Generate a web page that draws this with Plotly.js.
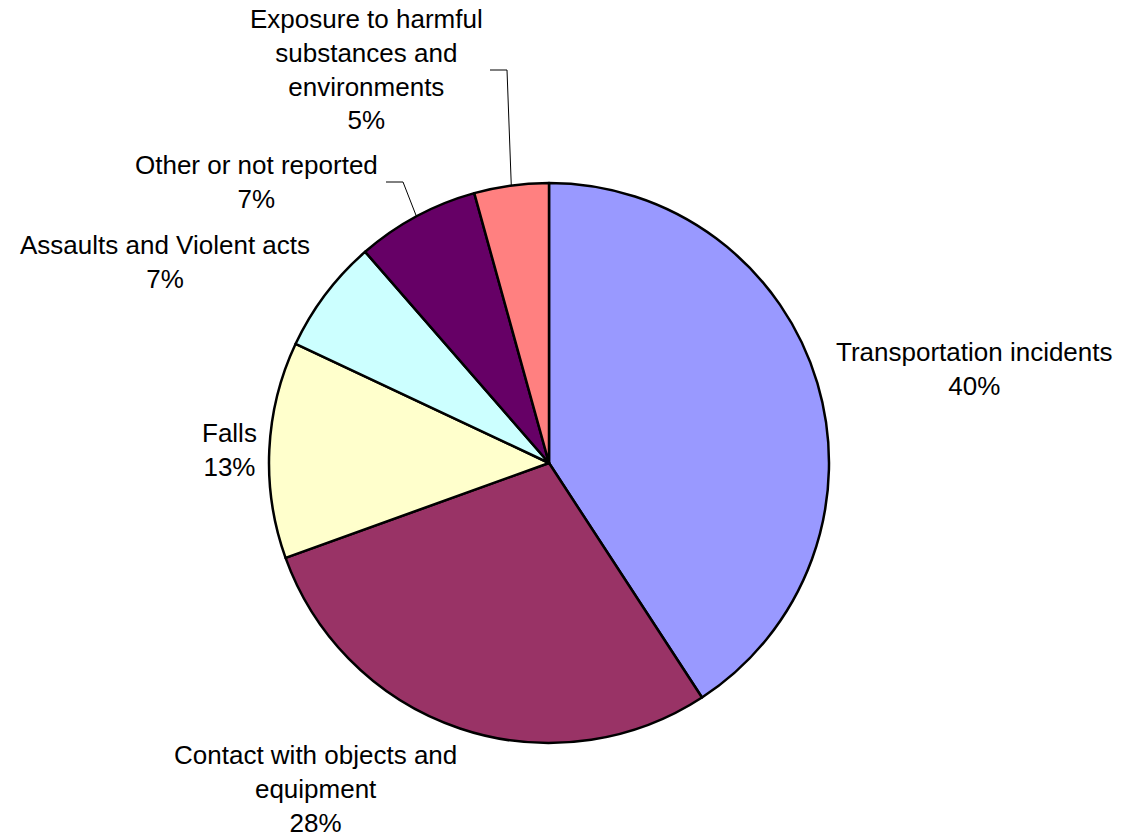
<!DOCTYPE html>
<html>
<head>
<meta charset="utf-8">
<script src="https://cdn.plot.ly/plotly-3.0.1.min.js"></script>
<style>html,body{margin:0;padding:0;background:#fff;}#chart{width:1121px;height:839px;}</style>
</head>
<body>
<div id="chart"></div>
<script>
// ---- data ----
const categories = [
  'Transportation incidents',
  'Contact with objects and equipment',
  'Falls',
  'Assaults and Violent acts',
  'Other or not reported',
  'Exposure to harmful substances and environments'
];
const values = [40.8, 28.7, 12.5, 6.6, 7.1, 4.3];
const percentLabels = ['40%', '28%', '13%', '7%', '7%', '5%'];
const labelLines = [
  ['Transportation incidents'],
  ['Contact with objects and', 'equipment'],
  ['Falls'],
  ['Assaults and Violent acts'],
  ['Other or not reported'],
  ['Exposure to harmful', 'substances and', 'environments']
];
const colors = ['#9999FF', '#993366', '#FFFFCC', '#CCFFFF', '#660066', '#FF8080'];

// ---- layout (pixels) ----
const W = 1121, H = 839;
const cx = 549, cy = 463, R = 280;
// label block centres
const labelPos = [[974, 369], [315, 789], [229, 450], [165, 262], [256, 182], [366, 69]];
// leader lines: elbow and end points (null = none)
const leaders = [null, null, null, null, [[403, 182], [386, 182]], [[507, 70], [490, 70]]];

const px = x => x / W;
const py = y => 1 - y / H;
const FONT = '"Liberation Sans", Arial, sans-serif';

const trace = {
  type: 'pie',
  labels: categories,
  values: values,
  sort: false,
  direction: 'clockwise',
  rotation: 0,
  textinfo: 'none',
  hoverinfo: 'label+percent',
  marker: { colors: colors, line: { color: '#000000', width: 2.5 } },
  domain: { x: [px(cx - R), px(cx + R)], y: [py(cy + R), py(cy - R)] },
  showlegend: false
};

const total = values.reduce((a, b) => a + b, 0);
let cum = 0;
const annotations = [];
const shapes = [];
categories.forEach((c, i) => {
  const mid = (cum + values[i] / 2) / total * 2 * Math.PI;
  cum += values[i];
  annotations.push({
    xref: 'paper', yref: 'paper',
    x: px(labelPos[i][0]), y: py(labelPos[i][1]),
    xanchor: 'center', yanchor: 'middle', align: 'center',
    showarrow: false,
    text: labelLines[i].concat([percentLabels[i]]).join('<br>'),
    font: { family: FONT, size: 26, color: '#000000' }
  });
  if (leaders[i]) {
    const ex = cx + R * Math.sin(mid), ey = cy - R * Math.cos(mid);
    const pts = [[ex, ey]].concat(leaders[i]);
    const path = pts.map((p, k) => (k ? 'L' : 'M') + px(p[0]) + ',' + py(p[1])).join(' ');
    shapes.push({
      type: 'path', xref: 'paper', yref: 'paper', path: path,
      line: { color: '#000000', width: 1 }
    });
  }
});

const layout = {
  width: W, height: H,
  margin: { l: 0, r: 0, t: 0, b: 0 },
  paper_bgcolor: '#ffffff',
  plot_bgcolor: '#ffffff',
  showlegend: false,
  annotations: annotations,
  shapes: shapes
};

Plotly.newPlot('chart', [trace], layout, { displayModeBar: false, staticPlot: true });
</script>
</body>
</html>
